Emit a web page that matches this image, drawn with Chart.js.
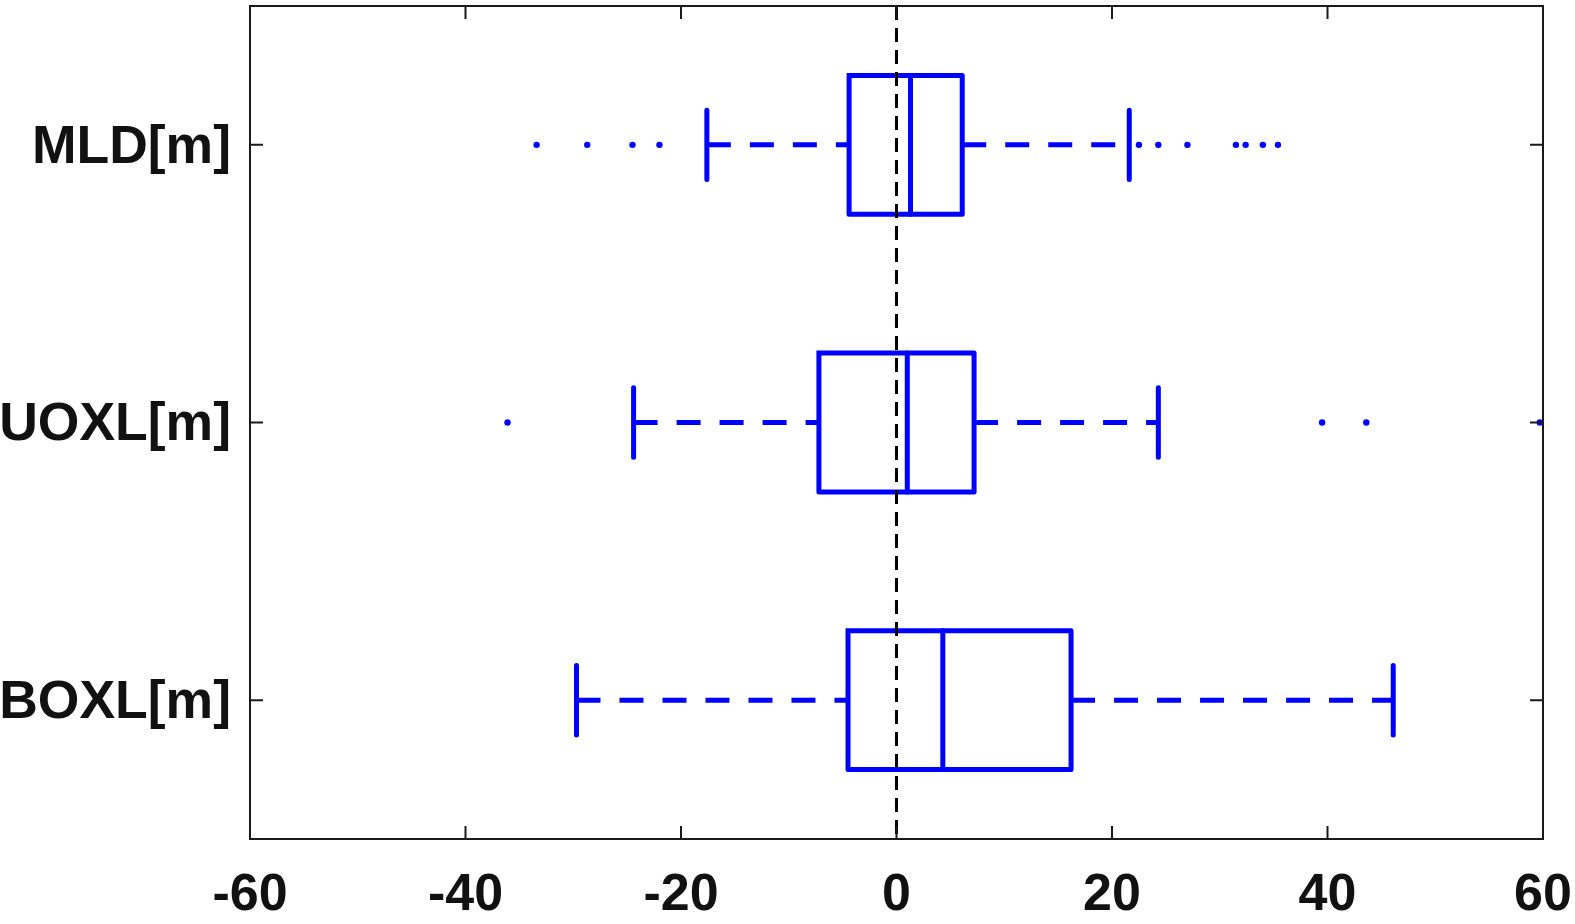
<!DOCTYPE html>
<html><head><meta charset="utf-8">
<script src="https://cdn.jsdelivr.net/npm/chart.js@4.4.1/dist/chart.umd.min.js"></script>
<style>html,body{margin:0;padding:0;background:#fff;} canvas{display:block;}</style>
</head><body>
<canvas id="c" width="1575" height="924"></canvas>
<script>
// ---- data ----
const categories = ['MLD[m]', 'UOXL[m]', 'BOXL[m]'];
const whiskerLow  = [-17.6, -24.4, -29.7];
const q1          = [-4.4, -7.2, -4.5];
const median      = [1.3, 1.0, 4.3];
const q3          = [6.1, 7.2, 16.2];
const whiskerHigh = [21.6, 24.3, 46.1];
const outliersMLD  = [-33.4, -28.7, -24.5, -22.0, 22.5, 24.3, 27.0, 31.5, 32.4, 34.0, 35.4];
const outliersUOXL = [-36.1, 39.5, 43.6, 59.7];
const outliersBOXL = [];
const xTicks = [-60, -40, -20, 0, 20, 40, 60];
const refLine = [0];

// ---- styles ----
const BLUE = '#0000ff';
const BOX_HALF = 0.25, CAP_HALF = 0.125;
const LW = 5;

const outliers = [outliersMLD, outliersUOXL, outliersBOXL];
const datasets = [];
function seg(pts, extra) {
  datasets.push(Object.assign({
    data: pts, showLine: true, borderColor: BLUE, backgroundColor: BLUE,
    borderWidth: LW, pointRadius: 0, pointHoverRadius: 0, fill: false, order: 1,
    borderJoinStyle: 'round', tension: 0
  }, extra || {}));
}
categories.forEach((cat, i) => {
  // box
  seg([{x: q1[i], y: i - BOX_HALF}, {x: q3[i], y: i - BOX_HALF}, {x: q3[i], y: i + BOX_HALF},
       {x: q1[i], y: i + BOX_HALF}, {x: q1[i], y: i - BOX_HALF}], {borderCapStyle: 'square'});
  // median
  seg([{x: median[i], y: i - BOX_HALF}, {x: median[i], y: i + BOX_HALF}]);
  // whiskers
  seg([{x: whiskerLow[i], y: i}, {x: q1[i], y: i}], {borderDash: [24, 19]});
  seg([{x: q3[i], y: i}, {x: whiskerHigh[i], y: i}], {borderDash: [24, 19]});
  // caps
  seg([{x: whiskerLow[i], y: i - CAP_HALF}, {x: whiskerLow[i], y: i + CAP_HALF}]);
  seg([{x: whiskerHigh[i], y: i - CAP_HALF}, {x: whiskerHigh[i], y: i + CAP_HALF}]);
});
// outliers
const outPts = [];
outliers.forEach((arr, i) => arr.forEach(v => outPts.push({x: v, y: i})));
datasets.push({data: outPts, showLine: false, pointRadius: 3.2, pointHoverRadius: 3.2,
  pointBackgroundColor: BLUE, pointBorderWidth: 0, borderColor: BLUE, order: 1});
// zero reference line
refLine.forEach(v => datasets.push({
  data: [{x: v, y: -0.5}, {x: v, y: categories.length - 0.5}], showLine: true,
  borderColor: '#000', borderWidth: 3, borderDash: [14, 8], pointRadius: 0, order: 0
}));

const framePlugin = {
  id: 'frame',
  afterDatasetsDraw(chart) {
    const {ctx, chartArea: a, scales: {x, y}} = chart;
    ctx.save();
    ctx.strokeStyle = '#1a1a1a';
    ctx.lineWidth = 2;
    ctx.strokeRect(a.left, a.top, a.right - a.left, a.bottom - a.top);
    const L = 13;
    ctx.beginPath();
    x.ticks.forEach(t => {
      const px = x.getPixelForValue(t.value);
      if (px <= a.left + 1 || px >= a.right - 1) return;
      ctx.moveTo(px, a.bottom); ctx.lineTo(px, a.bottom - L);
      ctx.moveTo(px, a.top); ctx.lineTo(px, a.top + L);
    });
    y.ticks.forEach(t => {
      const py = y.getPixelForValue(t.value);
      ctx.moveTo(a.left, py); ctx.lineTo(a.left + L, py);
      ctx.moveTo(a.right, py); ctx.lineTo(a.right - L, py);
    });
    ctx.stroke();
    ctx.restore();
  }
};

const zeroPad = s => { s.paddingLeft = 0; s.paddingRight = 0; s.paddingTop = 0; s.paddingBottom = 0; };
const fontFamily = "'Liberation Sans', Arial, sans-serif";
new Chart(document.getElementById('c'), {
  type: 'scatter',
  data: {datasets},
  options: {
    responsive: false,
    animation: false,
    layout: {padding: {top: 6, right: 32, left: 0, bottom: 0}},
    plugins: {legend: {display: false}, tooltip: {enabled: false}},
    scales: {
      x: {
        type: 'linear', min: -60, max: 60,
        afterBuildTicks: s => { s.ticks = xTicks.map(v => ({value: v})); },
        afterFit: s => { s.height = 85; zeroPad(s); },
        grid: {display: false, drawTicks: false},
        border: {display: false},
        ticks: {font: {family: fontFamily, weight: 'bold', size: 52}, color: '#111',
          padding: 25, maxRotation: 0, autoSkip: false}
      },
      y: {
        type: 'linear', min: -0.5, max: categories.length - 0.5, reverse: true,
        afterBuildTicks: s => { s.ticks = categories.map((c, i) => ({value: i})); },
        afterFit: s => { s.width = 250; zeroPad(s); },
        grid: {display: false, drawTicks: false},
        border: {display: false},
        ticks: {font: {family: fontFamily, weight: 'bold', size: 53.5}, color: '#111',
          padding: 19, labelOffset: 3, autoSkip: false,
          callback: v => categories[v]}
      }
    }
  },
  plugins: [framePlugin]
});
</script>
</body></html>
